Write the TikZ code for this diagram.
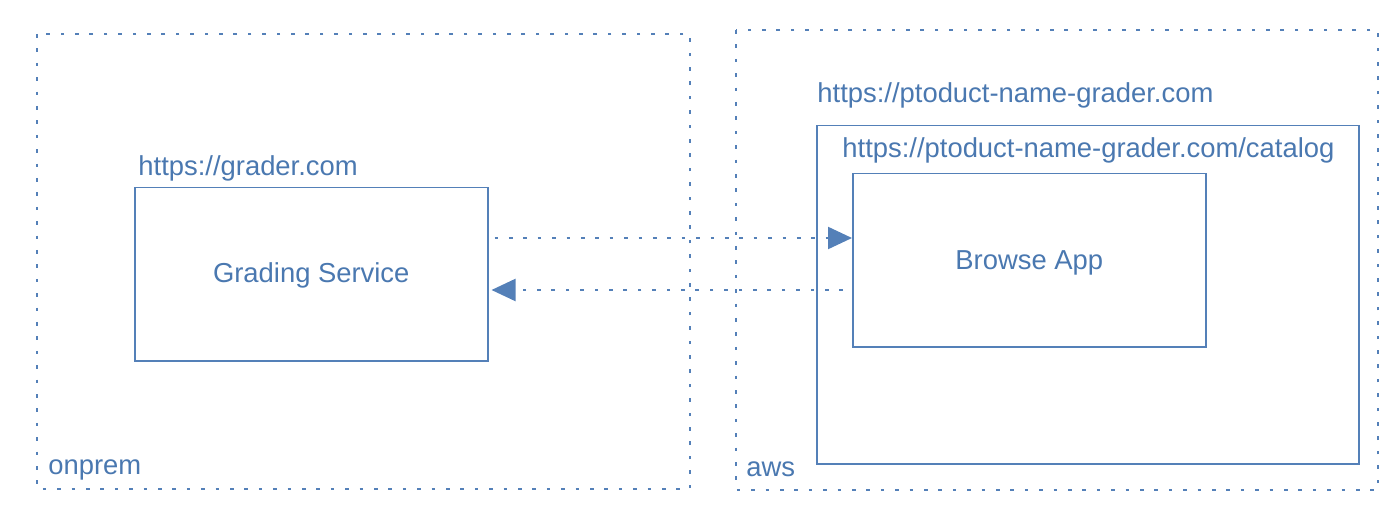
\documentclass[tikz,border=0pt]{standalone}
\usepackage{fontspec}
\setmainfont{Liberation Sans}
\usetikzlibrary{arrows.meta}
\definecolor{ln}{RGB}{84,128,184}
\definecolor{tx}{RGB}{74,120,176}
\tikzset{
  zone/.style={draw=ln, line width=1.1pt, dash pattern=on 1.8pt off 5.4pt, line cap=butt},
  sbox/.style={draw=ln, line width=0.75pt, anchor=north west, inner sep=0pt},
  lbl/.style={text=tx, font=\fontsize{13.7pt}{16pt}\selectfont, anchor=base west, inner sep=0pt},
  ctr/.style={text=tx, font=\fontsize{13.7pt}{16pt}\selectfont, anchor=base, inner sep=0pt},
  dotarrow/.style={draw=ln, line width=1.1pt, dash pattern=on 1.8pt off 5.4pt, -{Triangle[length=12pt,width=11pt,fill=ln]}}
}
\begin{document}
\begin{tikzpicture}[x=0.5pt,y=-0.5pt]
\useasboundingbox (0,0) rectangle (1400,507);
% zones
\draw[zone] (37,34) rectangle (690,489);
\draw[zone] (736,30) rectangle (1378,490);
\node[lbl] (onprem) at (48,474) {onprem};
\node[lbl] (aws) at (746,476) {aws};
% aws inner
\node[sbox, minimum width=271pt, minimum height=169pt] (inner) at (816,125) {};
\node[lbl] (url1) at (817,103) {https://ptoduct-name-grader.com};
\node[lbl] (url2) at (842,158) {https://ptoduct-name-grader.com/catalog};
\node[sbox, minimum width=176.5pt, minimum height=86.5pt] (browse) at (852,173) {};
\node[ctr] (browseT) at ([yshift=-4.4pt]browse.center) {Browse App};
% onprem
\node[lbl] (url3) at (138,176) {https://grader.com};
\node[sbox, minimum width=176.5pt, minimum height=86.5pt] (gs) at (134,187) {};
\node[ctr] (gsT) at ([yshift=-4.2pt]gs.center) {Grading Service};
% arrows
\coordinate (y1) at (0,238);
\coordinate (y2) at (0,290);
\draw[dotarrow] ([xshift=3pt]gs.east |- y1) -- (browse.west |- y1);
\draw[dotarrow] ([xshift=-4.5pt]browse.west |- y2) -- ([xshift=1.5pt]gs.east |- y2);
\end{tikzpicture}
\end{document}
